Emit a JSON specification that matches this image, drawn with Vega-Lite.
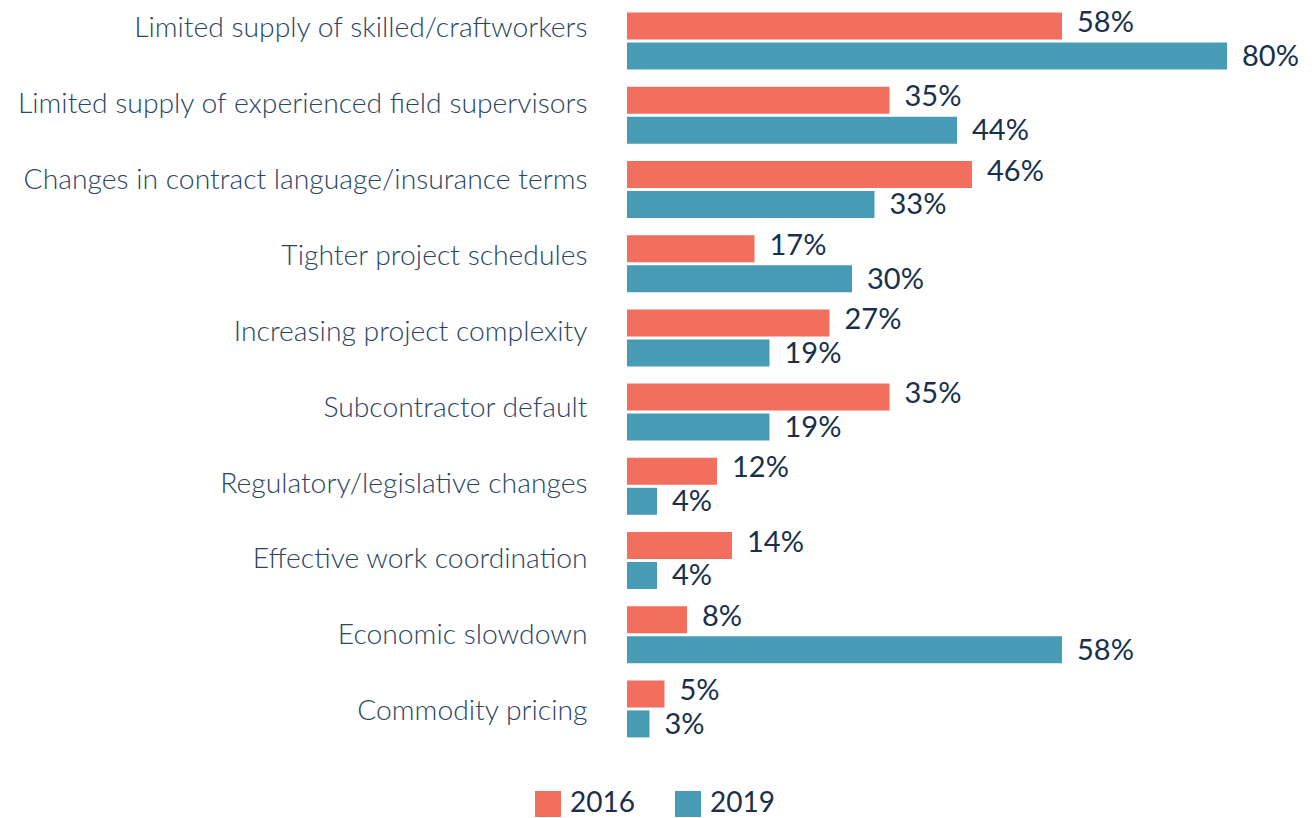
{
  "$schema": "https://vega.github.io/schema/vega-lite/v6.json",
  "width": 600,
  "height": 742,
  "autosize": {"type": "none"},
  "padding": {"left": 627, "top": 4, "right": 85, "bottom": 72},
  "background": "white",
  "config": {"view": {"stroke": null}},
  "data": {"values": [
    {"category": "Limited supply of skilled/craftworkers", "year": "2016", "value": 0.58},
    {"category": "Limited supply of skilled/craftworkers", "year": "2019", "value": 0.80},
    {"category": "Limited supply of experienced field supervisors", "year": "2016", "value": 0.35},
    {"category": "Limited supply of experienced field supervisors", "year": "2019", "value": 0.44},
    {"category": "Changes in contract language/insurance terms", "year": "2016", "value": 0.46},
    {"category": "Changes in contract language/insurance terms", "year": "2019", "value": 0.33},
    {"category": "Tighter project schedules", "year": "2016", "value": 0.17},
    {"category": "Tighter project schedules", "year": "2019", "value": 0.30},
    {"category": "Increasing project complexity", "year": "2016", "value": 0.27},
    {"category": "Increasing project complexity", "year": "2019", "value": 0.19},
    {"category": "Subcontractor default", "year": "2016", "value": 0.35},
    {"category": "Subcontractor default", "year": "2019", "value": 0.19},
    {"category": "Regulatory/legislative changes", "year": "2016", "value": 0.12},
    {"category": "Regulatory/legislative changes", "year": "2019", "value": 0.04},
    {"category": "Effective work coordination", "year": "2016", "value": 0.14},
    {"category": "Effective work coordination", "year": "2019", "value": 0.04},
    {"category": "Economic slowdown", "year": "2016", "value": 0.08},
    {"category": "Economic slowdown", "year": "2019", "value": 0.58},
    {"category": "Commodity pricing", "year": "2016", "value": 0.05},
    {"category": "Commodity pricing", "year": "2019", "value": 0.03}
  ]},
  "layer": [
    {
      "mark": {"type": "point", "opacity": 0},
      "encoding": {
        "y": {
          "field": "category", "type": "nominal", "sort": null,
          "scale": {"type": "point", "padding": 0.389, "align": 0.42},
          "axis": {
            "orient": "left", "title": null, "ticks": false, "domain": false,
            "labelPadding": 40, "labelFont": "Lato", "labelFontWeight": 300,
            "labelFontSize": 28.3, "labelColor": "#2a4562", "labelLimit": 700
          }
        }
      }
    },
    {
      "encoding": {
        "y": {
          "field": "category", "type": "nominal", "sort": null,
          "scale": {"paddingInner": 0.232, "paddingOuter": 0.116},
          "axis": null
        },
        "yOffset": {
          "field": "year", "type": "nominal",
          "scale": {"paddingInner": 0.1, "paddingOuter": 0}
        },
        "x": {
          "field": "value", "type": "quantitative",
          "scale": {"domain": [0, 0.8], "nice": false},
          "axis": null
        }
      },
      "layer": [
        {
          "mark": {"type": "bar"},
          "encoding": {
            "color": {
              "field": "year", "type": "nominal",
              "scale": {"domain": ["2016", "2019"], "range": ["#f26f5e", "#489bb4"]},
              "legend": {
                "orient": "none", "legendX": -93, "legendY": 786,
                "direction": "horizontal", "title": null,
                "symbolType": "square", "symbolSize": 676, "symbolStrokeWidth": 0,
                "symbolOpacity": 1,
                "labelFont": "Lato", "labelFontSize": 28, "labelColor": "#1b2f4b",
                "labelOffset": 8, "columnPadding": 39, "padding": 0
              }
            }
          }
        },
        {
          "transform": [{"filter": "datum.year == '2016'"}],
          "mark": {"type": "text", "align": "left", "baseline": "middle", "dx": 15, "dy": -3,
                   "font": "Lato", "fontSize": 29, "color": "#17304c"},
          "encoding": {"text": {"field": "value", "type": "quantitative", "format": ".0%"}}
        },
        {
          "transform": [{"filter": "datum.year == '2019'"}],
          "mark": {"type": "text", "align": "left", "baseline": "middle", "dx": 15, "dy": 1,
                   "font": "Lato", "fontSize": 29, "color": "#17304c"},
          "encoding": {"text": {"field": "value", "type": "quantitative", "format": ".0%"}}
        }
      ]
    }
  ],
  "resolve": {"scale": {"y": "independent"}}
}
